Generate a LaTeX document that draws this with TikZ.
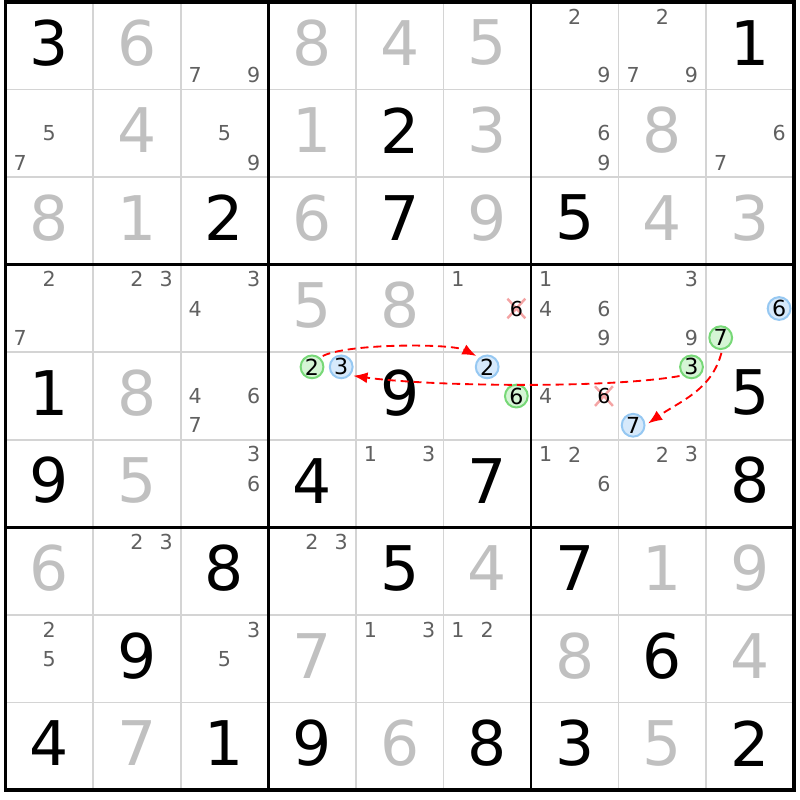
\documentclass[tikz,border=0pt]{standalone}
\usepackage{fontspec}
\setmainfont{DejaVu Sans}
\usetikzlibrary{arrows.meta,shapes.misc}

\definecolor{solvedgray}{HTML}{C0C0C0}
\definecolor{candgray}{HTML}{606060}
\definecolor{gridgray}{HTML}{D4D4D4}
\definecolor{onfill}{HTML}{D5F5D5}
\definecolor{ondraw}{HTML}{77D877}
\definecolor{offfill}{HTML}{D6E9FB}
\definecolor{offdraw}{HTML}{96C8F2}
\definecolor{crossred}{HTML}{F4A4A4}

\tikzset{
	clue/.style = {font=\fontsize{20}{20}\selectfont, inner sep=0pt, yshift=1pt},
	solved/.style = {clue, text=solvedgray},
	cand/.style = {font=\fontsize{6.7}{6.7}\selectfont, text=candgray, inner sep=0pt},
	oncand/.style = {circle, draw=ondraw, fill=onfill, text=black, line width=0.65pt,
		minimum size=7.4pt, font=\fontsize{7.2}{7.2}\selectfont},
	offcand/.style = {oncand, draw=offdraw, fill=offfill},
	crossmark/.style = {cross out, draw=crossred, line width=0.8pt, inner sep=0pt,
		minimum width=5pt, minimum height=5.6pt},
	thin grid/.style = {gridgray, line width=0.55pt},
	box line/.style = {black, line width=0.9pt},
	link/.style = {red, line width=0.6pt, dash pattern=on 2.6pt off 1.6pt,
		-{Latex[length=4.6pt,width=3.6pt]}, shorten <=1pt, shorten >=1pt}
}

% position of candidate #3 in cell (#1,#2)
\newcommand{\candpos}[3]{%
	\pgfmathsetmacro\candx{#2-1+(2*mod(#3-1,3)+1)/6}%
	\pgfmathsetmacro\candy{10-#1-(2*int((#3-1)/3)+1)/6}}
\newcommand{\cand}[4][]{\candpos{#2}{#3}{#4}\node[cand,#1] (c#2#3#4) at (\candx,\candy) {#4};}
\newcommand{\strike}[3]{\candpos{#1}{#2}{#3}%
	\node[crossmark] (x#1#2#3) at (\candx,\candy) {};
	\node[cand,text=black] (c#1#2#3) at (\candx,\candy) {#3};}

\begin{document}
\begin{tikzpicture}
	\useasboundingbox (-0.063,-0.112) rectangle (9.072,9.023);
	% grid
	\foreach \i in {1,2,4,5,7,8} {
		\draw[thin grid] (\i,0) -- (\i,9);
		\draw[thin grid] (0,\i) -- (9,\i);
	}
	\foreach \i in {3,6} {
		\draw[box line] (\i,0) -- (\i,9);
		\draw[box line] (0,\i) -- (9,\i);
	}
	\draw[box line, line width=1.2pt] (0,0) rectangle (9,9);
	% given digits
	\foreach \row/\col/\val in {1/1/3, 1/9/1, 2/5/2, 3/3/2, 3/5/7, 3/7/5, 5/1/1, 5/5/9, 5/9/5,
		6/1/9, 6/4/4, 6/6/7, 6/9/8, 7/3/8, 7/5/5, 7/7/7, 8/2/9, 8/8/6,
		9/1/4, 9/3/1, 9/4/9, 9/6/8, 9/7/3, 9/9/2}
		\node[clue] (d\row\col) at (\col-0.5,9.5-\row) {\val};
	% solved digits
	\foreach \row/\col/\val in {1/2/6, 1/4/8, 1/5/4, 1/6/5, 2/2/4, 2/4/1, 2/6/3, 2/8/8,
		3/1/8, 3/2/1, 3/4/6, 3/6/9, 3/8/4, 3/9/3, 4/4/5, 4/5/8, 5/2/8, 6/2/5,
		7/1/6, 7/6/4, 7/8/1, 7/9/9, 8/4/7, 8/7/8, 8/9/4, 9/2/7, 9/5/6, 9/8/5}
		\node[solved] (d\row\col) at (\col-0.5,9.5-\row) {\val};
	% candidates
	\foreach \row/\col/\ks in {1/3/{7,9}, 1/7/{2,9}, 1/8/{2,7,9}, 2/1/{5,7}, 2/3/{5,9},
		2/7/{6,9}, 2/9/{6,7}, 4/1/{2,7}, 4/2/{2,3}, 4/3/{3,4}, 4/6/{1}, 4/7/{1,4,6,9},
		4/8/{3,9}, 5/3/{4,6,7}, 5/7/{4}, 6/3/{3,6}, 6/5/{1,3}, 6/7/{1,2,6}, 6/8/{2,3},
		7/2/{2,3}, 7/4/{2,3}, 8/1/{2,5}, 8/3/{3,5}, 8/5/{1,3}, 8/6/{1,2}}
		\foreach \k in \ks {\cand{\row}{\col}{\k}}
	% eliminated
	\strike{4}{6}{6}
	\strike{5}{7}{6}
	% chain
	\cand[offcand]{4}{9}{6}
	\cand[oncand]{4}{9}{7}
	\cand[oncand]{5}{4}{2}
	\cand[offcand]{5}{4}{3}
	\cand[offcand]{5}{6}{2}
	\cand[oncand]{5}{6}{6}
	\cand[oncand]{5}{8}{3}
	\cand[offcand]{5}{8}{7}
	\draw[link] (c542.50) to[out=27,in=153,looseness=0.5] (c562.130);
	\draw[link] (c583.224) to[out=190,in=-8,looseness=0.6] (c543.317);
	\draw[link] (c497.277) to[out=-105,in=35] (c587.0);
\end{tikzpicture}
\end{document}
